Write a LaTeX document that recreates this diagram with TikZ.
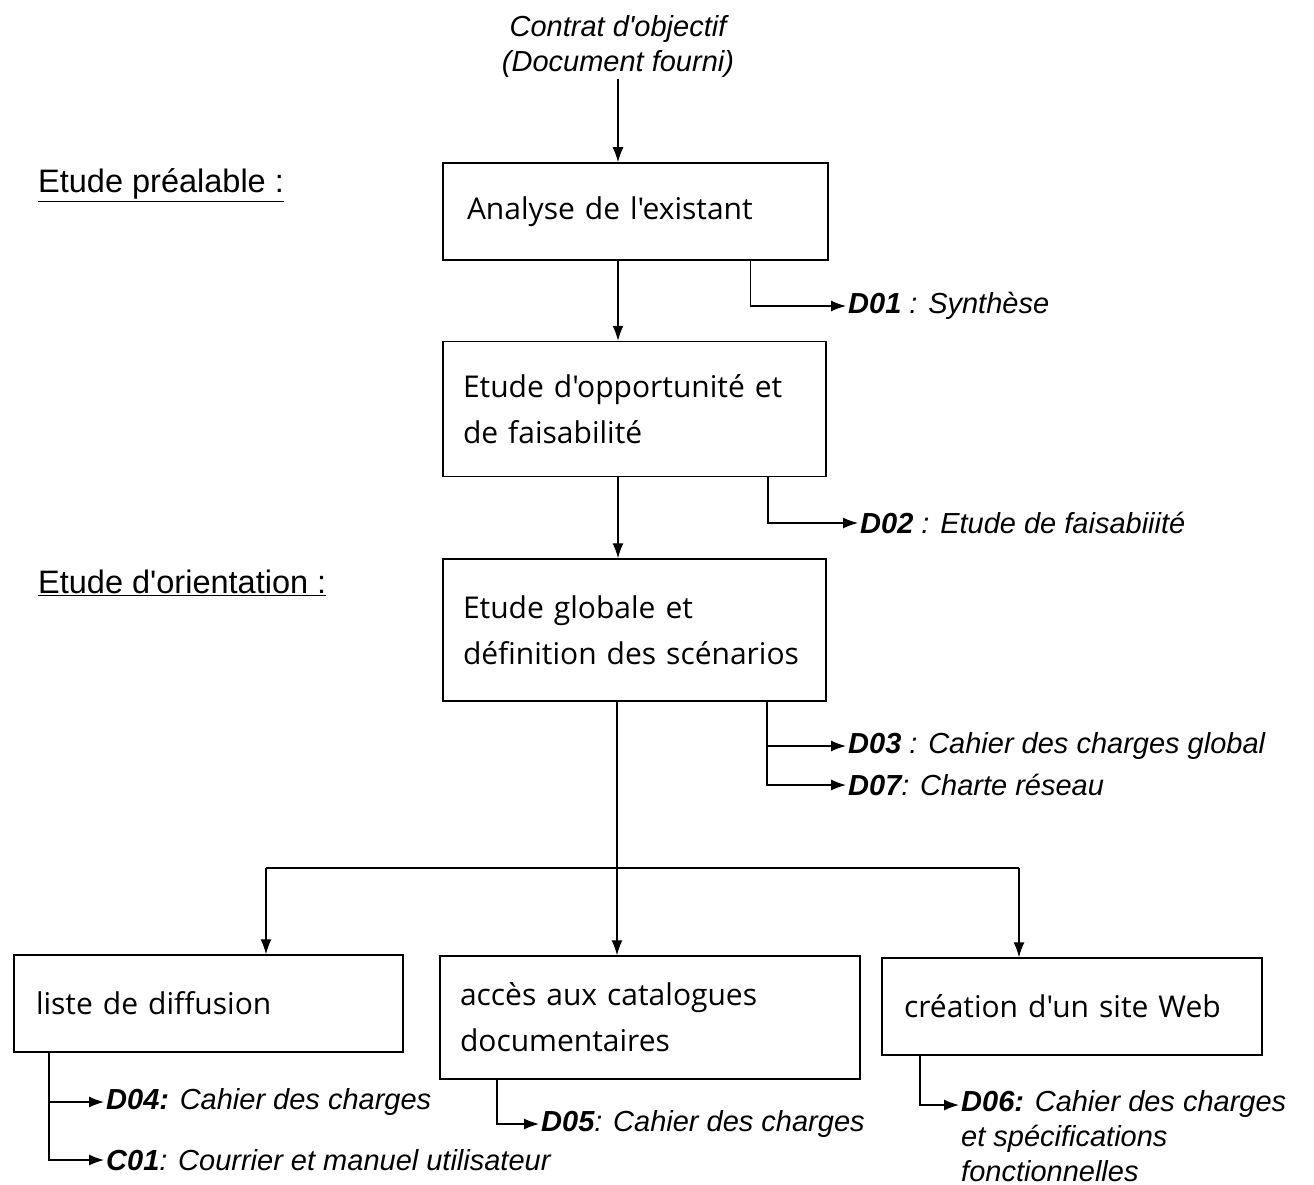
\documentclass[tikz,border=0pt]{standalone}
\usepackage{fontspec}
\setmainfont{Liberation Sans}
\newfontfamily\boxfont{Open Sans}
\usetikzlibrary{arrows.meta}

\tikzset{
  etape/.style={draw, line width=1.5pt, align=left, inner xsep=20pt,
    font=\boxfont\fontsize{30}{46}\selectfont},
  livrable/.style={anchor=west, inner sep=2pt, align=left,
    font=\itshape\fontsize{29}{35}\selectfont},
  phase/.style={anchor=west, inner sep=0pt, font=\fontsize{32.5}{36}\selectfont},
  fleche/.style={-{Latex[length=15pt,width=11pt]}, line width=1.3pt},
  trait/.style={line width=1.3pt}
}

\begin{document}
\begin{tikzpicture}[x=1pt, y=-1pt]
  \useasboundingbox (0,0) rectangle (1314,1185);

  % phases
  \node[phase] (prealable) at (38,185) {\underline{Etude préalable :}};
  \node[phase] (orientation) at (38,583) {\underline{Etude d\textquotesingle orientation :}};

  % entree
  \node[livrable, anchor=center, align=center] (contrat) at (618,46)
    {Contrat d\textquotesingle objectif\\(Document fourni)};

  % etapes
  \node[etape, minimum width=385pt, minimum height=97pt, text width=345pt]
    (analyse) at (635.5,211.5) {\hspace*{4pt}Analyse de l'existant};
  \node[etape, minimum width=383pt, minimum height=135pt, text width=343pt]
    (opportunite) at (634.5,409) {Etude d'opportunité et\\de faisabilité};
  \node[etape, minimum width=383pt, minimum height=142pt, text width=343pt]
    (globale) at (634.5,630) {Etude globale et\\définition des scénarios};
  \node[etape, minimum width=389pt, minimum height=97pt, text width=349pt]
    (liste) at (208.5,1003.5) {\hspace*{2pt}liste de diffusion};
  \node[etape, minimum width=420pt, minimum height=123pt, text width=380pt]
    (acces) at (650,1017.5) {accès aux catalogues\\documentaires};
  \node[etape, minimum width=380pt, minimum height=97pt, text width=340pt]
    (site) at (1072,1006.5) {\hspace*{2pt}création d'un site Web};

  % livrables
  \node[livrable] (d01) at (846,306) {\textbf{D01} : Synthèse};
  \node[livrable] (d02) at (858,523) {\textbf{D02} : Etude de faisabiiité};
  \node[livrable] (d03) at (846,746) {\textbf{D03} : Cahier des charges global};
  \node[livrable] (d07) at (846,785) {\textbf{D07}: Charte réseau};
  \node[livrable] (d04) at (104,1102) {\textbf{D04:} Cahier des charges};
  \node[livrable] (c01) at (104,1160) {\textbf{C01}: Courrier et manuel utilisateur};
  \node[livrable] (d05) at (539,1124) {\textbf{D05}: Cahier des charges};
  \node[livrable, anchor=north west] (d06) at (959,1088)
    {\textbf{D06:} Cahier des charges\\et spécifications\\fonctionnelles};

  % enchainement
  \draw[fleche] (contrat.south) -- (contrat.south |- analyse.north);
  \draw[fleche] (analyse.south -| contrat.south) -- (opportunite.north -| contrat.south);
  \draw[fleche] (opportunite.south -| contrat.south) -- (globale.north -| contrat.south);

  \coordinate (fourche) at (617,868);
  \coordinate (b4) at (266,868);
  \coordinate (b6) at (1019,868);
  \draw[trait] (globale.south -| fourche) -- (fourche);
  \draw[trait] (b4) -- (b6);
  \draw[fleche] (b4) -- (b4 |- liste.north);
  \draw[fleche] (fourche) -- (fourche |- acces.north);
  \draw[fleche] (b6) -- (b6 |- site.north);

  % sorties
  \draw[fleche] ([xshift=115pt]analyse.south) |- (d01.west);
  \draw[fleche] ([xshift=133.5pt]opportunite.south) |- (d02.west);
  \draw[fleche] ([xshift=132.5pt]globale.south) |- (d03.west);
  \draw[fleche] ([xshift=132.5pt]globale.south) |- (d07.west);
  \draw[fleche] ([xshift=-159.5pt]liste.south) |- (d04.west);
  \draw[fleche] ([xshift=-159.5pt]liste.south) |- (c01.west);
  \draw[fleche] ([xshift=-153pt]acces.south) |- (d05.west);
  \draw[fleche] ([xshift=-152pt]site.south) |- ([yshift=-17pt]d06.north west);
\end{tikzpicture}
\end{document}
